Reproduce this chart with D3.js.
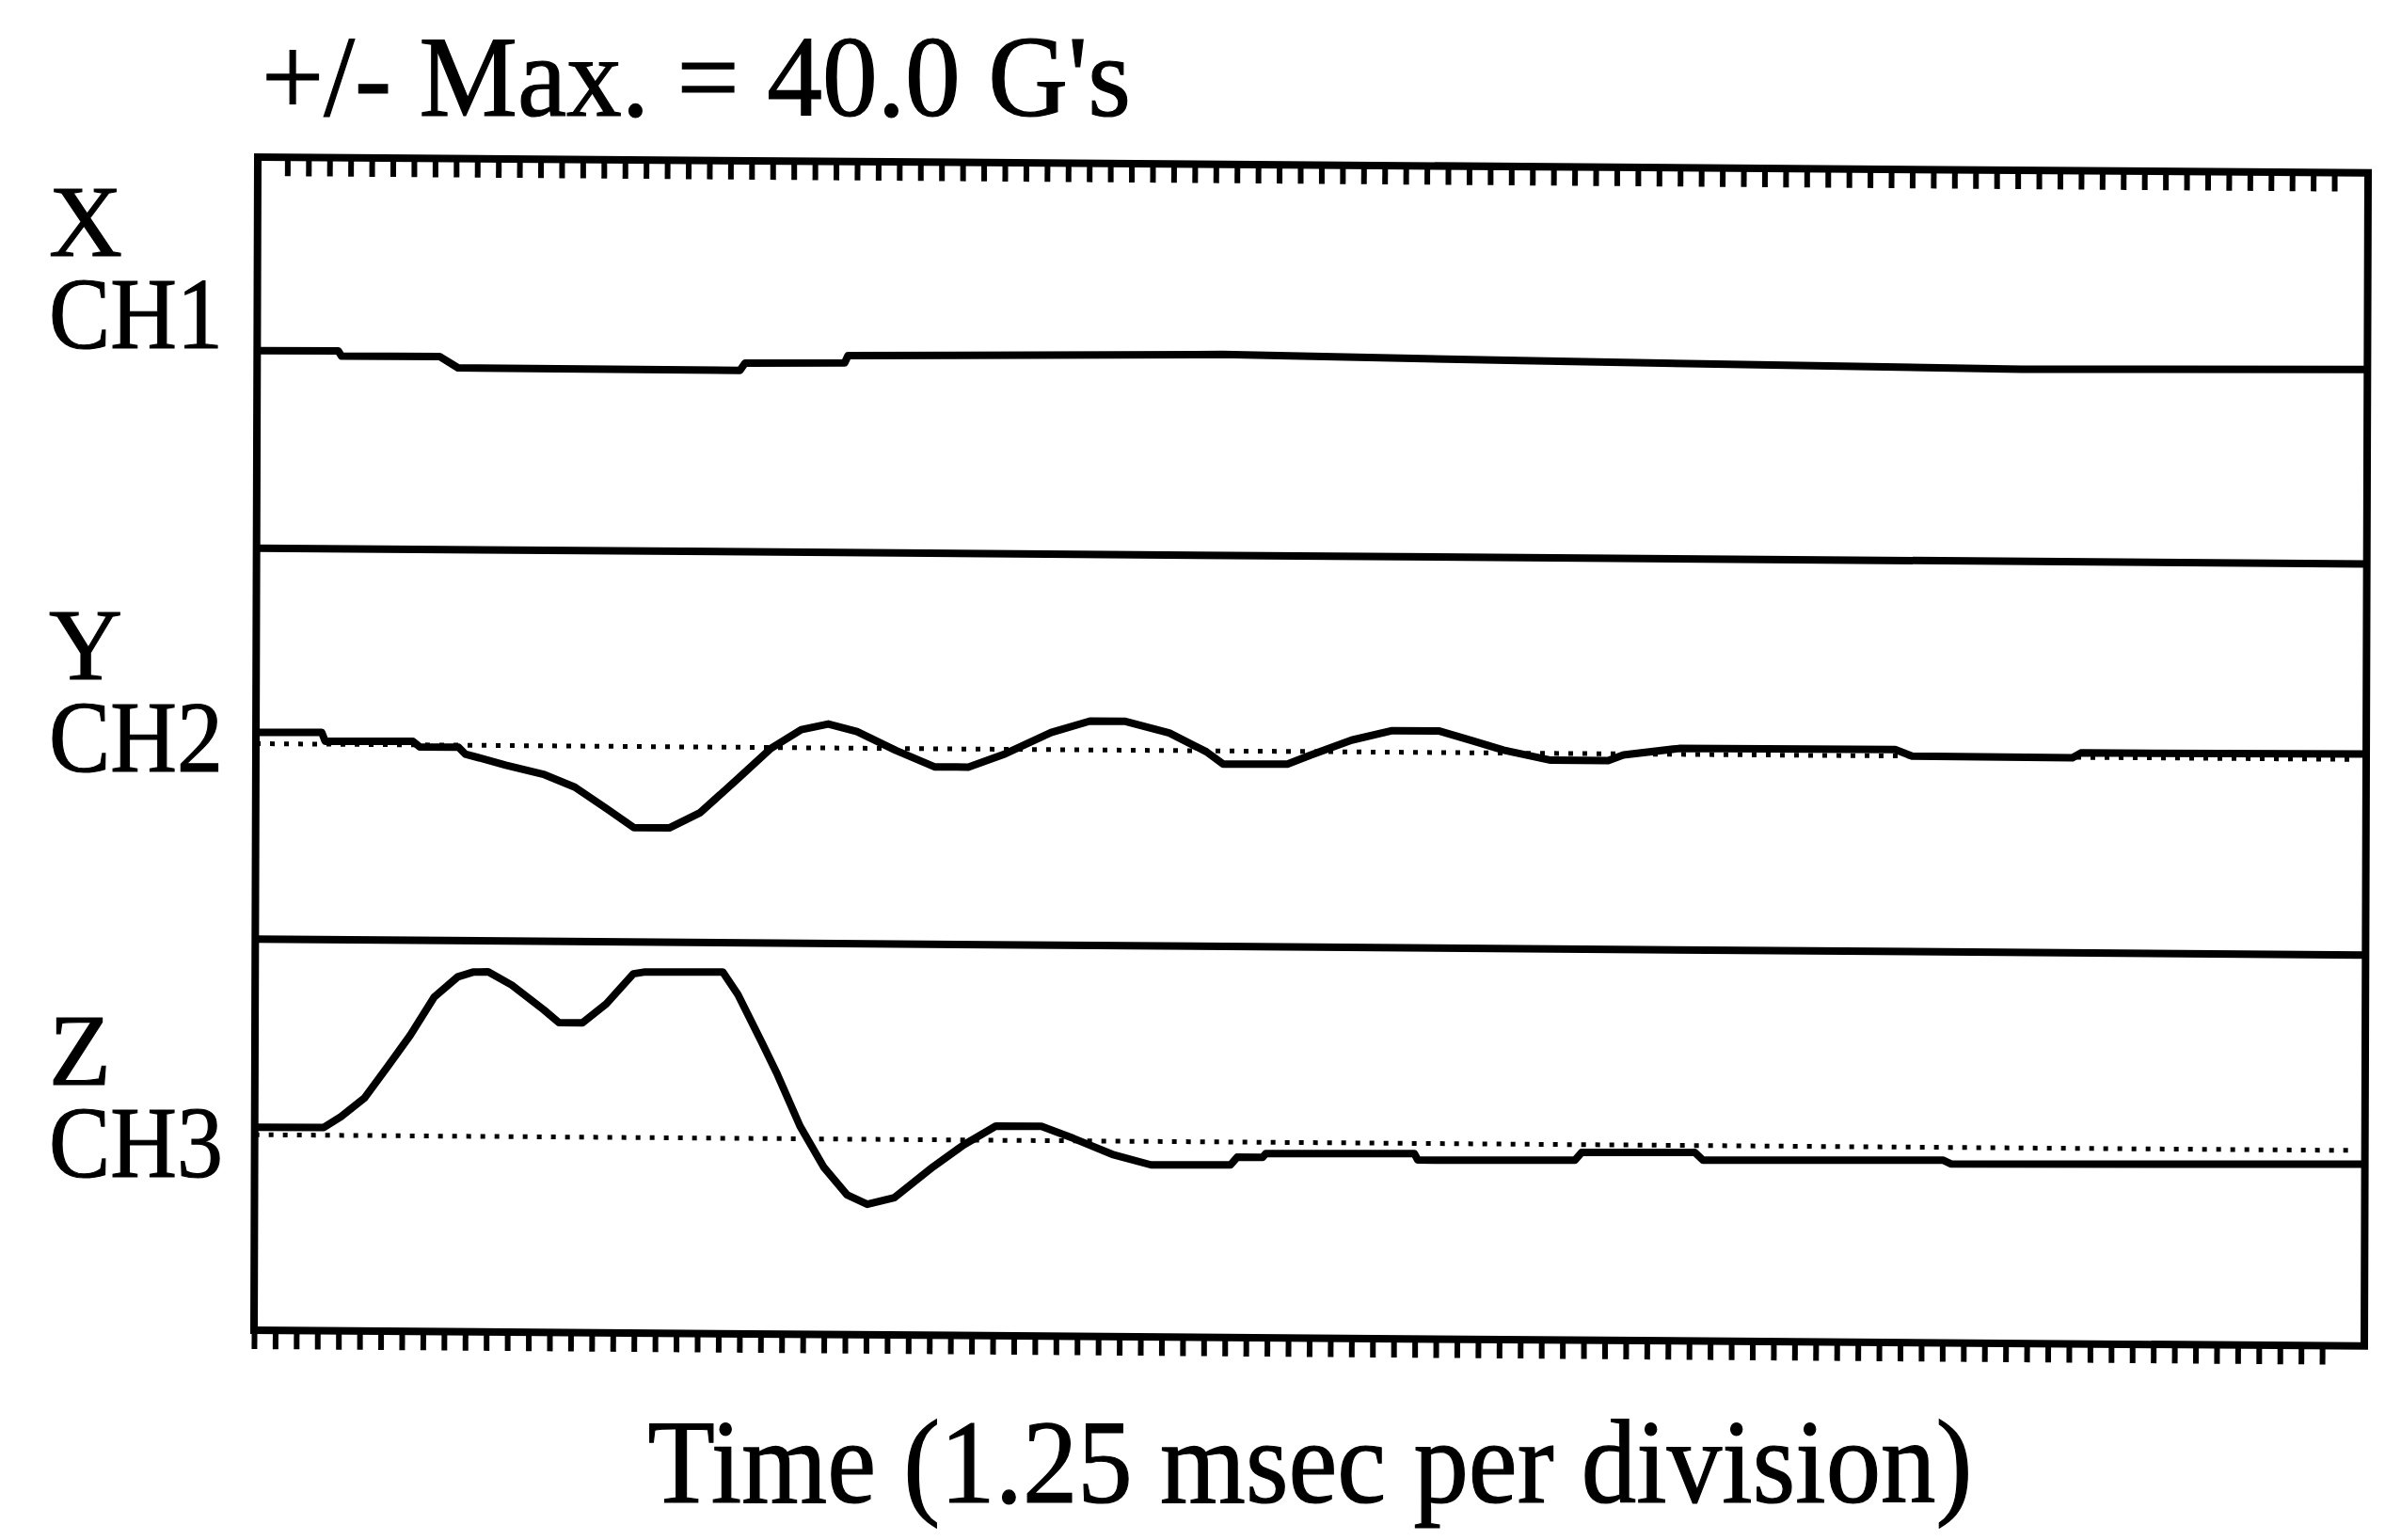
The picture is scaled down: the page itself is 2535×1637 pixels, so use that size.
<!DOCTYPE html>
<html>
<head>
<meta charset="utf-8">
<script src="https://cdn.jsdelivr.net/npm/d3@7"></script>
<style>
  body { margin: 0; background: #fff; }
  svg { display: block; background: #fff; }
  text { font-family: "Liberation Serif", "Times New Roman", serif; fill: #000; stroke: #000; stroke-width: 1.2; }
</style>
</head>
<body>
<svg id="chart"></svg>
<script>
const channelLetters = ['X', 'Y', 'Z'];
const channelNames = ['CH1', 'CH2', 'CH3'];
const showZeroLine = [false, true, true];
const maxG = 40.0;
const msPerDivision = 1.25;
const divisionCount = 10;
const titleText = "+/- Max. = 40.0 G's";
const xLabelText = 'Time (1.25 msec per division)';

// [msec, G]
const traceX = [
  [0, 0.4], [0.48, 0.5], [0.50, -0.6], [1.08, -0.5], [1.19, -2.8], [2.86, -2.9],
  [2.89, -1.4], [3.48, -1.2], [3.50, 0.3], [5.72, 1.1], [7.48, 0.3], [10.45, -0.7], [12.5, -0.2]
];
const traceY = [
  [0, 2.3], [0.39, 2.4], [0.41, 0.6], [0.93, 0.7], [0.97, -0.4], [1.20, -0.4], [1.24, -1.8],
  [1.48, -4.0], [1.71, -5.9], [1.89, -8.4], [2.08, -12.8], [2.24, -16.6], [2.45, -16.6],
  [2.63, -13.5], [2.86, -6.3], [3.05, -0.2], [3.23, 3.7], [3.39, 4.9], [3.56, 3.4],
  [3.79, -0.4], [4.02, -3.7], [4.22, -3.7], [4.44, -0.9], [4.71, 3.5], [4.94, 5.9],
  [5.15, 5.9], [5.41, 3.6], [5.63, -0.2], [5.73, -2.7], [6.11, -2.6], [6.25, -0.7],
  [6.49, 2.4], [6.73, 4.4], [7.01, 4.4], [7.20, 2.5], [7.39, 0.6], [7.67, -1.4],
  [8.01, -1.4], [8.10, -0.2], [8.43, 1.2], [9.71, 1.3], [9.81, 0], [10.76, -0.1],
  [10.81, 0.9], [12.5, 1.1]
];
const traceZ = [
  [0, 1.5], [0.41, 1.6], [0.51, 3.8], [0.65, 7.7], [0.79, 14.3], [0.92, 20.6], [1.06, 28.4],
  [1.20, 32.6], [1.29, 33.6], [1.38, 33.7], [1.52, 31.0], [1.71, 26.0], [1.80, 23.4],
  [1.94, 23.4], [2.08, 27.3], [2.24, 33.5], [2.31, 33.9], [2.77, 34.0], [2.86, 29.4],
  [3.00, 19.8], [3.09, 13.5], [3.23, 2.6], [3.37, -5.7], [3.51, -11.4], [3.63, -13.3],
  [3.79, -11.9], [4.02, -5.5], [4.20, -1.0], [4.39, 2.9], [4.66, 2.9], [4.85, 0.5],
  [5.08, -2.7], [5.31, -4.8], [5.78, -4.7], [5.82, -3.1], [5.97, -3.1], [5.99, -2.3],
  [6.87, -2.1], [6.89, -3.4], [7.82, -3.2], [7.86, -1.6], [8.53, -1.4], [8.58, -3.0],
  [10.0, -2.6], [10.05, -3.4], [12.5, -2.8]
];
const traces = [traceX, traceY, traceZ];

const width = 2535;
const height = 1637;
const plot = { left: 274, top: 167, w: 2243, h: 1247 };
const panelH = plot.h / 3;
const letterBase = [272, 722, 1153];
const lineGap = 98;

const svg = d3.select('#chart')
  .attr('width', width)
  .attr('height', height);

svg.append('text')
  .attr('x', 278)
  .attr('y', 123)
  .attr('font-size', 122)
  .attr('textLength', 924)
  .attr('lengthAdjust', 'spacingAndGlyphs')
  .text(titleText);

// letter and channel name stacked in one label
channelLetters.forEach((c, i) => {
  const lbl = svg.append('text')
    .attr('x', 52)
    .attr('y', letterBase[i])
    .attr('font-size', 108);

  lbl.append('tspan')
    .attr('x', 52)
    .text(c);

  lbl.append('tspan')
    .attr('x', 52)
    .attr('dy', lineGap)
    .attr('textLength', 185)
    .attr('lengthAdjust', 'spacingAndGlyphs')
    .text(channelNames[i]);
});

svg.append('text')
  .attr('x', plot.left + plot.w / 2 - 3)
  .attr('y', 1597)
  .attr('font-size', 127)
  .attr('text-anchor', 'middle')
  .attr('textLength', 1408)
  .attr('lengthAdjust', 'spacingAndGlyphs')
  .text(xLabelText);

// the scanned plot is a little tilted
const g = svg.append('g')
  .attr('transform', `matrix(1, 0.0075, -0.0032, 1, ${plot.left}, ${plot.top})`);

const x = d3.scaleLinear()
  .domain([0, msPerDivision * divisionCount])
  .range([0, plot.w]);

const yFor = i => d3.scaleLinear()
  .domain([-maxG, maxG])
  .range([panelH * (i + 1), panelH * i]);

// minor ticks every 1/10 division
const minor = msPerDivision / 10;
const bottomTicks = d3.range(0, 99).map(k => k * minor);
const topTicks = d3.range(1, 99).map(k => k * minor + 0.05);

const drawTicks = (vals, y0) => {
  const ax = g.append('g')
    .attr('transform', `translate(0,${y0})`)
    .call(d3.axisBottom(x).tickValues(vals).tickSize(20).tickSizeOuter(0).tickFormat(''));
  ax.select('.domain').remove();
  ax.selectAll('.tick line')
    .attr('stroke', '#000')
    .attr('stroke-width', 6);
};
drawTicks(topTicks, 0);
drawTicks(bottomTicks, plot.h);

g.append('rect')
  .attr('x', 0)
  .attr('y', 0)
  .attr('width', plot.w)
  .attr('height', plot.h)
  .attr('fill', 'none')
  .attr('stroke', '#000')
  .attr('stroke-width', 8);

[0, 1].forEach(i => {
  const yy = yFor(i).range()[0];
  g.append('line')
    .attr('x1', 0)
    .attr('x2', plot.w)
    .attr('y1', yy)
    .attr('y2', yy)
    .attr('stroke', '#000')
    .attr('stroke-width', 8);
});

traces.forEach((tr, i) => {
  const y = yFor(i);

  if (showZeroLine[i]) {
    g.append('line')
      .attr('x1', x(0))
      .attr('x2', plot.w - 8)
      .attr('y1', y(0))
      .attr('y2', y(0))
      .attr('stroke', '#000')
      .attr('stroke-width', 5)
      .attr('stroke-dasharray', '5 10');
  }

  const line = d3.line()
    .x(d => x(d[0]))
    .y(d => y(d[1]));

  g.append('path')
    .datum(tr)
    .attr('d', line)
    .attr('fill', 'none')
    .attr('stroke', '#000')
    .attr('stroke-width', 8)
    .attr('stroke-linejoin', 'round');
});
</script>
</body>
</html>
